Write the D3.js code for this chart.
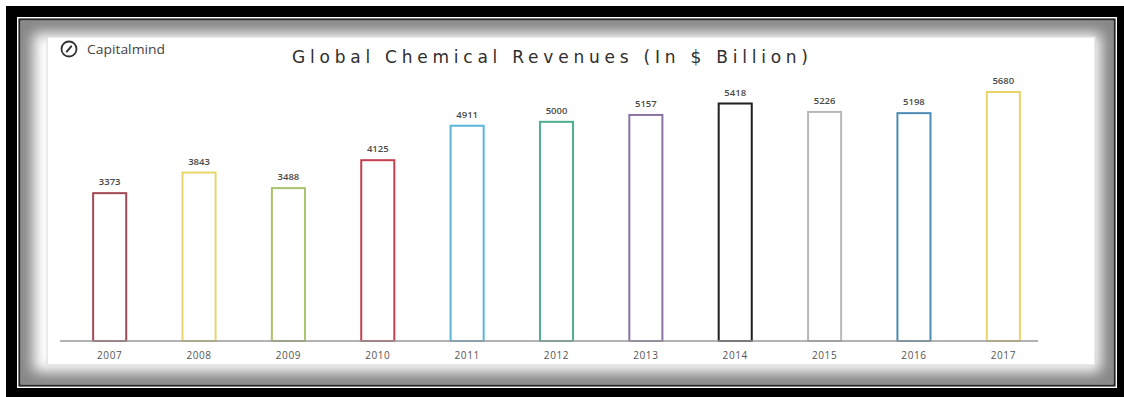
<!DOCTYPE html>
<html>
<head>
<meta charset="utf-8">
<script src="https://cdn.jsdelivr.net/npm/d3@7"></script>
<style>
  html, body { margin: 0; padding: 0; background: #fff; }
  svg { display: block; }
</style>
</head>
<body>
<svg id="chart" width="1124" height="397"></svg>
<script>
// Global chemical revenues, $ billion
const years = ["2007", "2008", "2009", "2010", "2011", "2012", "2013", "2014", "2015", "2016", "2017"];
const revenues = [3373, 3843, 3488, 4125, 4911, 5000, 5157, 5418, 5226, 5198, 5680];
const barColors = ["#a24a55", "#e6d66c", "#a8c46c", "#c2414f", "#5bb5d9", "#4eaf8f",
                   "#8a72a3", "#1f1f1f", "#b8b8b8", "#4c8cb4", "#ead46a"];
const titleText = "Global Chemical Revenues (In $ Billion)";
const brandText = "Capitalmind";

const W = 1124, H = 397;
const svg = d3.select("#chart");
const defs = svg.append("defs");

// ---- picture frame -------------------------------------------------------
svg.append("rect").attr("x", 6).attr("y", 6).attr("width", W - 6).attr("height", H - 6)
  .attr("fill", "#000");
svg.append("rect").attr("x", 17).attr("y", 17).attr("width", 1100).attr("height", 371)
  .attr("fill", "#fff");
svg.append("rect").attr("x", 19.5).attr("y", 19.5).attr("width", 1095).attr("height", 366)
  .attr("fill", "#fff").attr("stroke", "#262626").attr("stroke-width", 2.2);

// soft inner shadow along the frame
defs.append("clipPath").attr("id", "innerClip")
  .append("rect").attr("x", 21).attr("y", 21).attr("width", 1092).attr("height", 363);
defs.append("filter").attr("id", "soft").attr("x", "-5%").attr("y", "-5%")
  .attr("width", "110%").attr("height", "110%")
  .append("feGaussianBlur").attr("stdDeviation", 7);
svg.append("g").attr("clip-path", "url(#innerClip)")
  .append("rect").attr("x", 21).attr("y", 21).attr("width", 1092).attr("height", 363)
  .attr("fill", "none").attr("stroke", "#858585").attr("stroke-width", 24)
  .attr("filter", "url(#soft)");

// chart panel
const panel = { x: 47, y: 37, w: 1048, h: 328 };
svg.append("rect").attr("x", panel.x).attr("y", panel.y)
  .attr("width", panel.w).attr("height", panel.h)
  .attr("fill", "#fff").attr("stroke", "#dcdcdc").attr("stroke-width", 1.2);

// ---- brand mark ----------------------------------------------------------
const brand = svg.append("g").attr("transform", "translate(69,49)");
brand.append("circle").attr("r", 7.5).attr("fill", "none")
  .attr("stroke", "#333").attr("stroke-width", 1.8);
brand.append("line").attr("x1", -2.2).attr("y1", 2.6).attr("x2", 2.2).attr("y2", -2.6)
  .attr("stroke", "#333").attr("stroke-width", 2).attr("stroke-linecap", "round");
svg.append("text").attr("x", 87).attr("y", 54)
  .attr("font-family", "'Open Sans', sans-serif").attr("font-size", 13.5)
  .attr("fill", "#444").attr("textLength", 78).attr("lengthAdjust", "spacingAndGlyphs")
  .text(brandText);

// ---- title ---------------------------------------------------------------
svg.append("text").attr("x", 292).attr("y", 63)
  .attr("font-family", "'DejaVu Sans', Verdana, sans-serif").attr("font-size", 17)
  .attr("fill", "#2e2e2e").attr("textLength", 516).attr("lengthAdjust", "spacing")
  .text(titleText);

// ---- scales --------------------------------------------------------------
const x = d3.scaleBand().domain(years).range([65, 1048]).paddingInner(0.63).paddingOuter(0.315);
const y = d3.scaleLinear().domain([0, 6000]).range([341, 78]);

const data = years.map((yr, i) => ({ year: yr, value: revenues[i], color: barColors[i] }));

// bars: outlined columns
svg.append("g").selectAll("rect").data(data).join("rect")
  .attr("x", d => x(d.year))
  .attr("y", d => y(d.value))
  .attr("width", x.bandwidth())
  .attr("height", d => y(0) - y(d.value))
  .attr("fill", "#fff")
  .attr("stroke", d => d.color)
  .attr("stroke-width", 2);

// value labels
svg.append("g").selectAll("text").data(data).join("text")
  .attr("x", d => x(d.year) + x.bandwidth() / 2)
  .attr("y", d => y(d.value) - 8)
  .attr("text-anchor", "middle")
  .attr("font-family", "'Open Sans', sans-serif").attr("font-size", 9.5)
  .attr("font-weight", 600)
  .attr("fill", "#4a4a4a")
  .text(d => d.value);

// x axis: category labels plus a baseline that stops short of the right edge
const axis = svg.append("g").attr("transform", `translate(0,${y(0)})`)
  .call(d3.axisBottom(x).tickSize(0).tickPadding(11));
axis.select(".domain").remove();
axis.append("line").attr("x1", 60).attr("x2", 1038).attr("y1", 0).attr("y2", 0)
  .attr("stroke", "#9a9a9a").attr("stroke-width", 1.6);
axis.selectAll("text")
  .attr("font-family", "'Open Sans', sans-serif").attr("font-size", 10)
  .attr("fill", "#555").attr("letter-spacing", 0.6);
</script>
</body>
</html>
